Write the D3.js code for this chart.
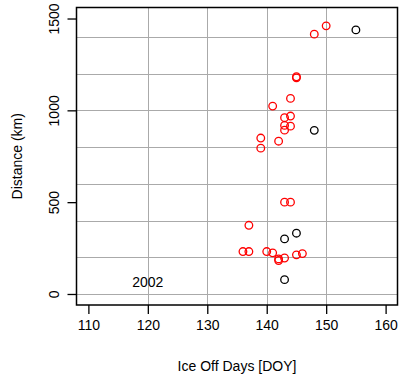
<!DOCTYPE html>
<html>
<head>
<meta charset="utf-8">
<script src="https://cdn.jsdelivr.net/npm/d3@7"></script>
<style>
  body { margin: 0; background: #fff; }
  text { font-family: "Liberation Sans", Arial, sans-serif; }
</style>
</head>
<body>
<div id="chart"></div>
<script>
// red points: ice off day vs distance
const redDays = [150, 148, 145, 145, 144, 141, 143, 144, 143, 144, 143, 139, 142, 139,
                 143, 144, 137, 136, 137, 140, 141, 142, 142, 143, 145, 146]
const redDist = [1460, 1415, 1183, 1177, 1065, 1023, 960, 969, 918, 914, 892, 849, 832, 794,
                 500, 500, 374, 231, 231, 231, 224, 191, 182, 196, 213, 220]
// black points
const blackDays = [155, 148, 145, 143, 143]
const blackDist = [1438, 891, 331, 300, 78]

const xTicks = [110, 120, 130, 140, 150, 160]
const yTicks = [0, 500, 1000, 1500]
const xGrid = [120, 130, 140, 150]
const yGrid = [0, 200, 400, 600, 800, 1000, 1200, 1400]
const yearLabel = '2002'

const width = 399
const height = 383
const plotL = 76.5, plotR = 397.5, plotT = 7.5, plotB = 305

const svg = d3.select('#chart').append('svg')
    .attr('width', width)
    .attr('height', height)

const x = d3.scaleLinear().domain([108, 162]).range([plotL, plotR])
const y = d3.scaleLinear().domain([-60, 1560]).range([plotB, plotT])

// grid
const grid = svg.append('g').attr('stroke', '#aaaaaa').attr('stroke-width', 1)
grid.selectAll('line.v').data(xGrid).join('line')
    .attr('class', 'v')
    .attr('x1', d => Math.round(x(d)) + 0.5).attr('x2', d => Math.round(x(d)) + 0.5)
    .attr('y1', plotT).attr('y2', plotB)
grid.selectAll('line.h').data(yGrid).join('line')
    .attr('class', 'h')
    .attr('x1', plotL).attr('x2', plotR)
    .attr('y1', d => Math.round(y(d)) + 0.5).attr('y2', d => Math.round(y(d)) + 0.5)

// axes
const xAxis = d3.axisBottom(x).tickValues(xTicks).tickFormat(d3.format('d')).tickSize(9).tickPadding(6)
svg.append('g')
    .attr('transform', `translate(0,${plotB})`)
    .call(xAxis)
    .call(g => g.select('.domain').remove())
    .call(g => g.selectAll('line').attr('stroke', '#000').attr('stroke-width', 1.3))
    .call(g => g.selectAll('text').attr('font-size', 14).attr('fill', '#000')
        .attr('font-family', '"Liberation Sans", Arial, sans-serif'))

const yAxis = d3.axisLeft(y).tickValues(yTicks).tickFormat(d3.format('d')).tickSize(9).tickPadding(6)
svg.append('g')
    .attr('transform', `translate(${plotL},0)`)
    .call(yAxis)
    .call(g => g.select('.domain').remove())
    .call(g => g.selectAll('line').attr('stroke', '#000').attr('stroke-width', 1.3))
    .call(g => g.selectAll('text')
        .attr('font-size', 14).attr('fill', '#000')
        .attr('font-family', '"Liberation Sans", Arial, sans-serif')
        .attr('text-anchor', 'middle')
        .attr('x', 0).attr('dy', 0)
        .attr('transform', 'translate(-18,0) rotate(-90)'))

// box
svg.append('rect')
    .attr('x', plotL).attr('y', plotT)
    .attr('width', plotR - plotL).attr('height', plotB - plotT)
    .attr('fill', 'none').attr('stroke', '#000').attr('stroke-width', 1.5)

// points
const pts = svg.append('g').attr('fill', 'none').attr('stroke-width', 1.3)
pts.selectAll('circle.b').data(blackDays).join('circle')
    .attr('class', 'b')
    .attr('cx', d => x(d)).attr('cy', (d, i) => y(blackDist[i]))
    .attr('r', 3.8).attr('stroke', '#000')
pts.selectAll('circle.r').data(redDays).join('circle')
    .attr('class', 'r')
    .attr('cx', d => x(d)).attr('cy', (d, i) => y(redDist[i]))
    .attr('r', 3.8).attr('stroke', '#ff0000')

// year label
svg.append('text')
    .attr('x', x(120)).attr('y', y(70))
    .attr('dy', 5.5)
    .attr('text-anchor', 'middle')
    .attr('font-size', 14)
    .text(yearLabel)

// axis titles
svg.append('text')
    .attr('x', (plotL + plotR) / 2).attr('y', 371)
    .attr('text-anchor', 'middle')
    .attr('font-size', 14)
    .text('Ice Off Days [DOY]')

svg.append('text')
    .attr('transform', `translate(22,${(plotT + plotB) / 2}) rotate(-90)`)
    .attr('text-anchor', 'middle')
    .attr('font-size', 14)
    .text('Distance (km)')
</script>
</body>
</html>
